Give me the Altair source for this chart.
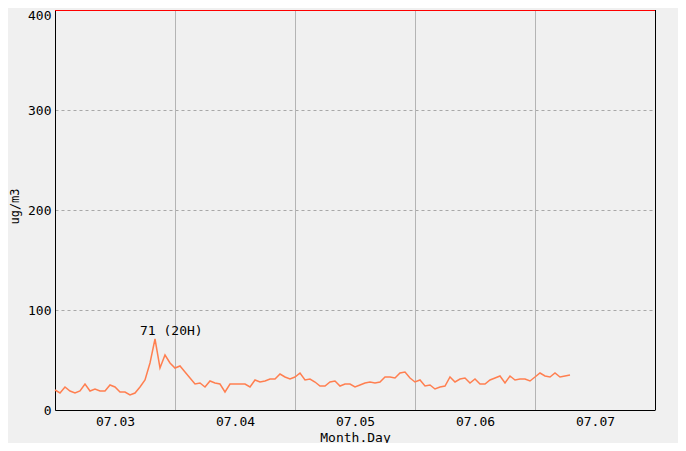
import altair as alt
import pandas as pd

days = ["07.03", "07.04", "07.05", "07.06", "07.07"]

# hourly ug/m3 values starting 07.03 00H
pm = [
    20, 17, 23, 19, 17, 19, 26, 19, 21, 19, 19, 25, 23, 18, 18, 15, 17, 23, 30, 47, 71, 42, 55, 47,
    42, 44, 38, 32, 26, 27, 23, 29, 27, 26, 18, 26, 26, 26, 26, 23, 30, 28, 29, 31, 31, 36, 33, 31,
    33, 37, 30, 31, 28, 24, 24, 28, 29, 24, 26, 26, 23, 25, 27, 28, 27, 28, 33, 33, 32, 37, 38, 32,
    28, 30, 24, 25, 21, 23, 24, 33, 28, 31, 32, 27, 31, 26, 26, 30, 32, 34, 27, 34, 30, 31, 31, 29,
    33, 37, 34, 33, 37, 33, 34, 35,
]
y_ticks = [0, 100, 200, 300, 400]

df = pd.DataFrame({"hour": list(range(len(pm))), "value": pm})
peak = max(range(len(pm)), key=lambda i: pm[i])
ann = pd.DataFrame({"hour": [peak], "value": [pm[peak]],
                    "label": [f"{pm[peak]} ({peak % 24}H)"]})
bounds = pd.DataFrame({"hour": [24 * i for i in range(1, len(days))]})

FONT = "DejaVu Sans Mono"
x_max = 24 * len(days)
x_scale = alt.Scale(domain=[0, x_max], nice=False, zero=False)
y_scale = alt.Scale(domain=[y_ticks[0], y_ticks[-1]], nice=False)
label_expr = "[" + ",".join(f"'{d}'" for d in days) + "][floor(datum.value/24)]"

x_axis = alt.Axis(values=[12 + 24 * i for i in range(len(days))], labelExpr=label_expr,
                  title="Month.Day", grid=False, ticks=False, labelPadding=5,
                  titleY=21, titleBaseline="top")
y_axis = alt.Axis(values=y_ticks, grid=True, gridDash=[3, 3], gridColor="#a8a8a8",
                  ticks=False, labelPadding=4, title="ug/m3", titleAngle=-90,
                  titleX=-41, titleY=196, titleAlign="center", titleBaseline="middle",
                  titleFontSize=12,
                  labelOffset={"condition": {"test": f"datum.value == {y_ticks[-1]}", "value": 5},
                               "value": 0})

vgrid = alt.Chart(bounds).mark_rule(color="#b4b4b4", strokeWidth=1, xOffset=0.5).encode(
    x=alt.X("hour:Q", scale=x_scale, axis=x_axis)
)
line = alt.Chart(df).mark_line(color="#ff7f50", strokeWidth=1.5).encode(
    x=alt.X("hour:Q", scale=x_scale, axis=x_axis),
    y=alt.Y("value:Q", scale=y_scale, axis=y_axis),
)
right = alt.Chart(df).mark_rule(color="black", strokeWidth=1, xOffset=0.5).encode(
    x=alt.datum(x_max, scale=x_scale)
)
top = alt.Chart(df).mark_rule(color="red", strokeWidth=1, yOffset=0.5).encode(
    y=alt.datum(y_ticks[-1], scale=y_scale)
)
text = alt.Chart(ann).mark_text(align="left", baseline="alphabetic", dx=-15, dy=-4,
                                font=FONT, fontSize=13, color="black").encode(
    x=alt.X("hour:Q", scale=x_scale),
    y=alt.Y("value:Q", scale=y_scale),
    text="label:N",
)

chart = alt.layer(vgrid, line, right, top, text).properties(
    width=600, height=400,
    autosize=alt.AutoSizeParams(type="none"),
    padding={"left": 47, "top": 2, "right": 23, "bottom": 33},
    background="#f0f0f0",
).configure_view(stroke="transparent", fill="#f0f0f0").configure_axis(
    labelFont=FONT, titleFont=FONT, labelFontSize=13, titleFontSize=13,
    labelColor="black", titleColor="black", titleFontWeight="normal",
    domainColor="black", domainWidth=1,
)

chart.save("out.html", embed_options={"renderer": "svg", "actions": False})
